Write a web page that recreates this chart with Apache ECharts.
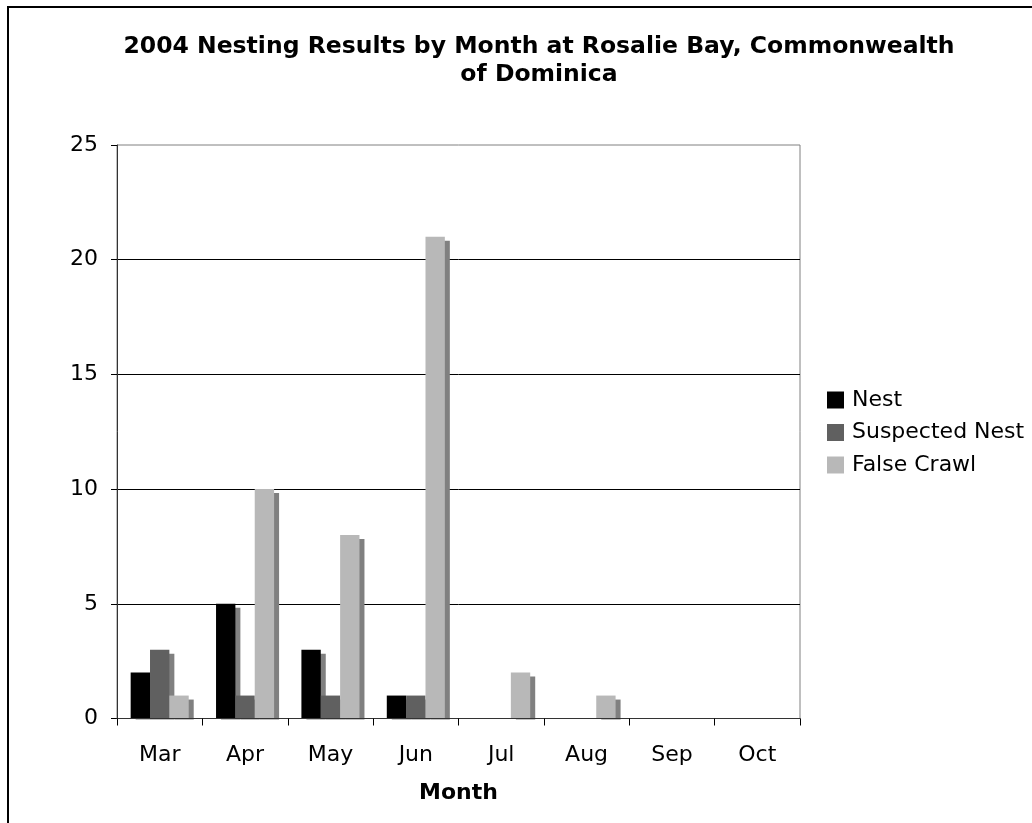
<!DOCTYPE html>
<html>
<head>
<meta charset="utf-8">
<script src="https://cdn.jsdelivr.net/npm/echarts@6/dist/echarts.min.js"></script>
<style>html,body{margin:0;padding:0;background:#fff}#c{width:1032px;height:823px}</style>
</head>
<body>
<div id="c"></div>
<script>
const months = ['Mar', 'Apr', 'May', 'Jun', 'Jul', 'Aug', 'Sep', 'Oct'];
const nest = [2, 5, 3, 1, 0, 0, 0, 0];
const suspectedNest = [3, 1, 1, 1, 0, 0, 0, 0];
const falseCrawl = [1, 10, 8, 21, 2, 1, 0, 0];
const yTicks = [0, 5, 10, 15, 20, 25];

const FONT = 'DejaVu Sans';
const chart = echarts.init(document.getElementById('c'), null, {renderer: 'canvas'});
const shadow = {shadowColor: '#808080', shadowOffsetX: 5, shadowOffsetY: 4, shadowBlur: 0};
function bar(name, data, color) {
  return {
    name: name, type: 'bar', data: data, barGap: '0%', barCategoryGap: '32%',
    itemStyle: Object.assign({color: color}, shadow),
    emphasis: {disabled: true}, animation: false
  };
}
chart.setOption({
  animation: false,
  backgroundColor: '#fff',
  title: {
    text: '2004 Nesting Results by Month at Rosalie Bay, Commonwealth\nof Dominica',
    left: 539, top: 33, textAlign: 'center', padding: 0,
    textStyle: {fontFamily: FONT, fontWeight: 'bold', fontSize: 23.5, lineHeight: 28, color: '#000'}
  },
  legend: {
    orient: 'vertical', left: 827, top: 389, itemWidth: 17, itemHeight: 17, itemGap: 10.5,
    icon: 'rect', padding: 0,
    textStyle: {fontFamily: FONT, fontSize: 22, color: '#000', padding: [0, 0, 0, 3]},
    data: ['Nest', 'Suspected Nest', 'False Crawl']
  },
  grid: {left: 117, right: 232, top: 145, bottom: 823 - 718.5, show: true, borderColor: '#808080', borderWidth: 1, backgroundColor: '#fff'},
  xAxis: {
    type: 'category', data: months, z: 10,
    axisLine: {lineStyle: {color: '#333', width: 1}},
    axisTick: {show: true, length: 7, lineStyle: {color: '#000'}},
    axisLabel: {fontFamily: FONT, fontSize: 22, color: '#000', margin: 26},
    name: 'Month', nameLocation: 'middle', nameGap: 64,
    nameTextStyle: {fontFamily: FONT, fontWeight: 'bold', fontSize: 22, color: '#000'}
  },
  yAxis: {
    type: 'value', min: yTicks[0], max: yTicks[yTicks.length - 1], interval: 5,
    axisLine: {show: true, lineStyle: {color: '#333'}},
    axisTick: {show: true, length: 6, lineStyle: {color: '#000'}},
    axisLabel: {fontFamily: FONT, fontSize: 22, color: '#000', margin: 19},
    splitLine: {show: true, showMaxLine: false, lineStyle: {color: '#000', width: 1}}
  },
  graphic: [
    {type: 'rect', z: 5, silent: true, shape: {x: 118, y: 719.5, width: 682, height: 6}, style: {fill: '#fff'}},
    {type: 'rect', z: 100, silent: true, shape: {x: 8, y: 7, width: 1200, height: 1000}, style: {fill: 'none', stroke: '#000', lineWidth: 2}}
  ],
  series: [
    bar('Nest', nest, '#000000'),
    bar('Suspected Nest', suspectedNest, '#606060'),
    bar('False Crawl', falseCrawl, '#b8b8b8')
  ]
});
</script>
</body>
</html>
